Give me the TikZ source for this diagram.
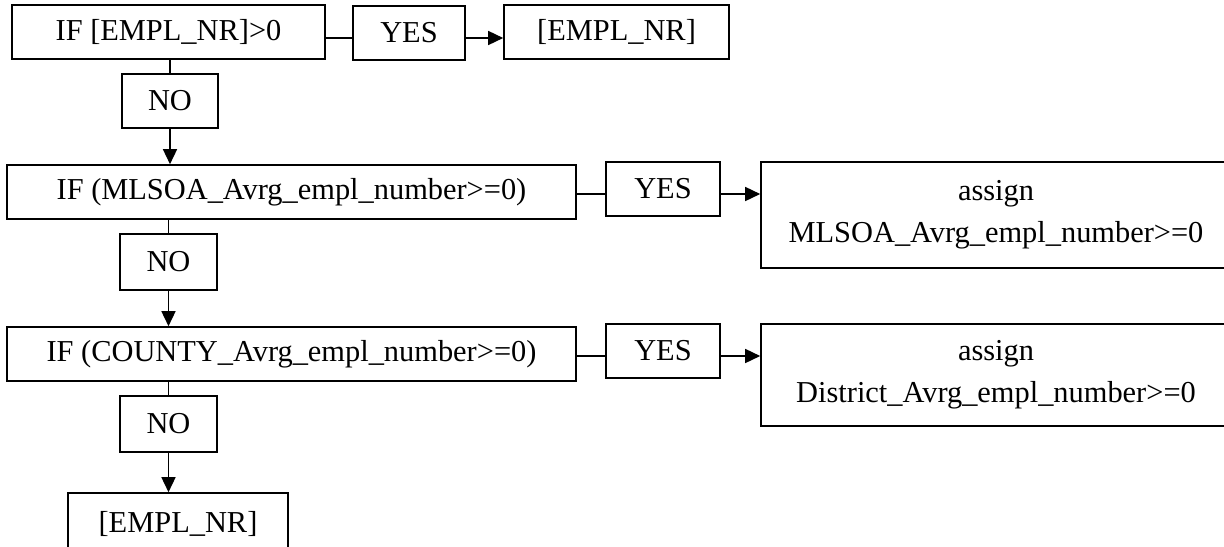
\documentclass[tikz,border=0pt]{standalone}
\usepackage{fontspec}
\setmainfont{Liberation Serif}
\usetikzlibrary{arrows.meta}
\tikzset{
  flowbox/.style={
    draw,
    line width=0.8pt,
    rectangle,
    inner sep=0pt,
    align=center,
    font=\fontsize{15.2}{21}\selectfont
  },
  boxdim/.style 2 args={
    minimum width=#1*0.5pt,
    minimum height=#2*0.5pt
  },
  flowline/.style={
    draw,
    line width=0.75pt
  },
  flowarrow/.style={
    flowline,
    -{Triangle[length=7.5pt,width=7pt]}
  }
}

\begin{document}
\begin{tikzpicture}[x=0.5pt,y=-0.5pt]
  \useasboundingbox (0,0) rectangle (1224,546);
  \clip (0,0) rectangle (1224,546);
  % first test
  \node[flowbox, boxdim={313}{54}] (if1) at (168.5,32) {IF [EMPL\_NR]>0};
  \node[flowbox, boxdim={112}{54}] (yes1) at (409,33) {YES};
  \node[flowbox, boxdim={225}{54}] (out1) at (616.5,32) {[EMPL\_NR]};
  \node[flowbox, boxdim={96}{54}] (no1) at (170,101) {NO};
  % second test
  \node[flowbox, boxdim={569}{54}] (if2) at (291.5,192) {IF (MLSOA\_Avrg\_empl\_number>=0)};
  \node[flowbox, boxdim={114}{54}] (yes2) at (663,189) {YES};
  \node[flowbox, boxdim={470}{106}] (asg1) at (996,215) {assign\\MLSOA\_Avrg\_empl\_number>=0};
  \node[flowbox, boxdim={97}{56}] (no2) at (168.5,262) {NO};
  % third test
  \node[flowbox, boxdim={569}{54}] (if3) at (291.5,354) {IF (COUNTY\_Avrg\_empl\_number>=0)};
  \node[flowbox, boxdim={114}{54}] (yes3) at (663,351) {YES};
  \node[flowbox, boxdim={470}{102}] (asg2) at (996,375) {assign\\District\_Avrg\_empl\_number>=0};
  \node[flowbox, boxdim={97}{56}] (no3) at (168.5,424) {NO};
  \node[flowbox, boxdim={220}{62}] (last) at (178,524) {[EMPL\_NR]};

  \draw[flowline] ([yshift=-3pt]if1.east) -- ([yshift=-3pt]if1.east -| yes1.west);
  \draw[flowarrow] ([yshift=-3pt]if1.east -| yes1.east) -- ([yshift=-3pt]if1.east -| out1.west);
  \draw[flowline] ([yshift=-1pt]if2.east) -- ([yshift=-1pt]if2.east -| yes2.west);
  \draw[flowarrow] ([yshift=-1pt]if2.east -| yes2.east) -- ([yshift=-1pt]if2.east -| asg1.west);
  \draw[flowline] ([yshift=-1pt]if3.east) -- ([yshift=-1pt]if3.east -| yes3.west);
  \draw[flowarrow] ([yshift=-1pt]if3.east -| yes3.east) -- ([yshift=-1pt]if3.east -| asg2.west);

  \draw[flowline] (if1.south -| no1) -- (no1.north);
  \draw[flowarrow] (no1.south) -- (no1.south |- if2.north);
  \draw[flowline] (if2.south -| no2) -- (no2.north);
  \draw[flowarrow] (no2.south) -- (no2.south |- if3.north);
  \draw[flowline] (if3.south -| no3) -- (no3.north);
  \draw[flowarrow] (no3.south) -- (no3.south |- last.north);
\end{tikzpicture}
\end{document}
